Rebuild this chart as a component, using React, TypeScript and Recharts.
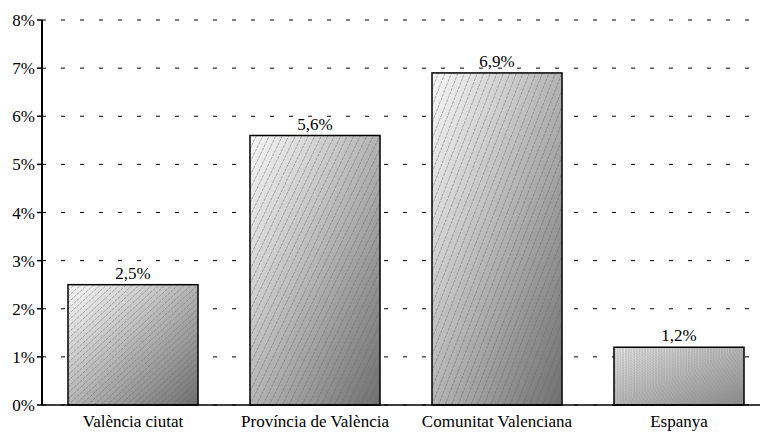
import React from 'react';
import { BarChart, Bar, XAxis, YAxis, CartesianGrid, LabelList } from 'recharts';

const categories = ['València ciutat', 'Província de València', 'Comunitat Valenciana', 'Espanya'];
const values = [2.5, 5.6, 6.9, 1.2];
const yTicks = [0, 1, 2, 3, 4, 5, 6, 7, 8];

const data = categories.map((name, i) => ({ name, value: values[i] }));

const FONT = 'Liberation Serif';

const fmtLabel = (v: any) => `${Number(v).toFixed(1).replace('.', ',')}%`;

// bar with gradient + diagonal hatch stretched to the bar box
const HatchBar = (props: any) => {
  const { x, y, width, height, index } = props;
  if (!width || !height) return null;
  const dense = index === 3;
  const n = dense ? 36 : 20;
  const lines: React.ReactNode[] = [];
  for (let k = 1; k < 2 * n; k++) {
    const c = k / n;
    let x1, y1, x2, y2;
    if (c <= 1) {
      x1 = x; y1 = y + c * height; x2 = x + c * width; y2 = y;
    } else {
      x1 = x + (c - 1) * width; y1 = y + height; x2 = x + width; y2 = y + (c - 1) * height;
    }
    lines.push(
      <line key={k} x1={x1} y1={y1} x2={x2} y2={y2}
        stroke={dense ? '#808080' : '#6a6a6a'} strokeWidth={dense ? 0.5 : 0.7}
        strokeOpacity={0.75} strokeDasharray={dense ? '2 1' : '3 1'} />
    );
  }
  return (
    <g>
      <rect x={x} y={y} width={width} height={height} fill={dense ? 'url(#gradB)' : 'url(#gradA)'} />
      <g clipPath={`url(#clip${index})`}>{lines}</g>
      <defs>
        <clipPath id={`clip${index}`}>
          <rect x={x} y={y} width={width} height={height} />
        </clipPath>
      </defs>
      <rect x={x} y={y} width={width} height={height} fill="none" stroke="#000" strokeWidth={1.5} />
    </g>
  );
};

export default function App() {
  return (
    <div style={{ position: 'absolute', left: 0, top: 0, width: 760, height: 435, overflow: 'hidden', background: '#fff', fontFamily: FONT }}>
      <BarChart
        width={780}
        height={435}
        data={data}
        margin={{ top: 20, right: 10, left: 0, bottom: 0 }}
        barCategoryGap={26}
        style={{ fontFamily: FONT }}
      >
        <defs>
          <linearGradient id="gradA" x1="0" y1="0" x2="1" y2="1">
            <stop offset="0%" stopColor="#f8f8f8" />
            <stop offset="100%" stopColor="#707070" />
          </linearGradient>
          <linearGradient id="gradB" x1="0" y1="0" x2="1" y2="1">
            <stop offset="0%" stopColor="#e6e6e6" />
            <stop offset="100%" stopColor="#8c8c8c" />
          </linearGradient>
        </defs>
        <CartesianGrid vertical={false} stroke="#000" strokeDasharray="4 15" strokeWidth={1} />
        <XAxis
          dataKey="name"
          height={30}
          axisLine={{ stroke: '#000', strokeWidth: 1.5 }}
          tickLine={false}
          tick={{ fontSize: 17, fill: '#000', fontFamily: FONT }}
          tickMargin={4}
          interval={0}
        />
        <YAxis
          width={42}
          domain={[0, 8]}
          ticks={yTicks}
          interval={0}
          tickFormatter={(v: number) => `${v}%`}
          axisLine={{ stroke: '#000', strokeWidth: 2 }}
          tickLine={{ stroke: '#000', strokeWidth: 1.5 }}
          tickSize={5}
          tick={{ fontSize: 17, fill: '#000', fontFamily: FONT }}
        />
        <Bar dataKey="value" shape={HatchBar} isAnimationActive={false}>
          <LabelList dataKey="value" position="top" offset={6} formatter={fmtLabel}
            fontFamily={FONT} fontSize={17} fill="#000" />
        </Bar>
      </BarChart>
    </div>
  );
}
